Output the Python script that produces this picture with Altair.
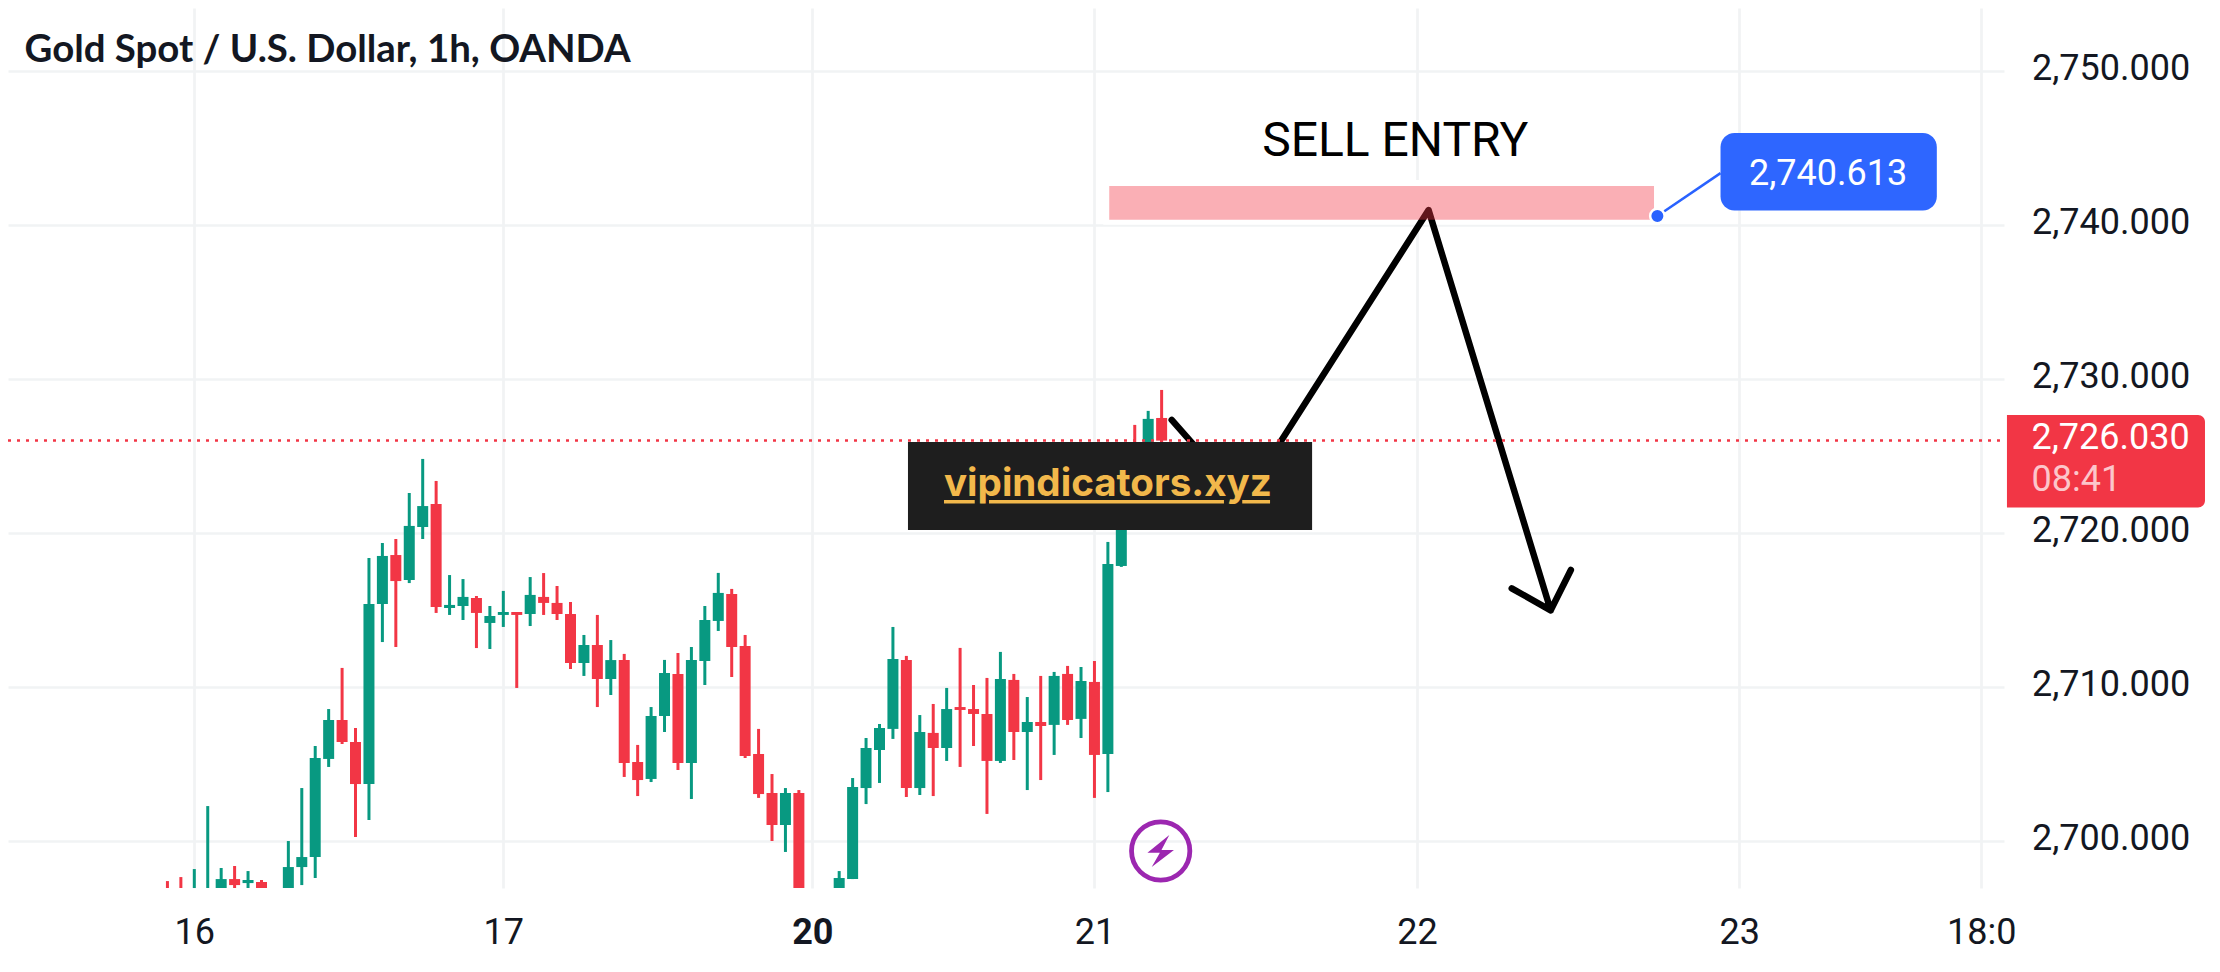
import altair as alt
import pandas as pd

# bar index (0 = the "16" tick), one hourly candle per index
bars = list(range(-2, 73))
highs = [2697.43,2697.69,2698.21,2702.30,2698.28,2698.41,2698.08,2697.50,2696.00,2700.03,2703.47,2706.20,2708.60,2711.27,2707.37,2718.41,2719.38,2719.64,2722.63,2724.84,2723.41,2717.30,2717.04,2715.94,2715.29,2716.27,2714.90,2717.17,2717.43,2716.59,2715.55,2713.41,2714.71,2713.08,
         2712.18,2706.27,2708.73,2711.79,2712.24,2712.63,2715.29,2717.44,2716.40,2713.41,2707.31,2704.38,2703.47,2703.34,2696.00,2696.00,2698.08,2704.12,2706.72,2707.63,2713.93,2712.05,2708.21,2708.93,2709.97,2712.57,2710.16,2710.62,2712.31,2710.88,2709.38,2710.75,2711.01,2711.40,2711.33,2711.72,2719.45,2722.50,2727.05,2727.96,2729.32]
tops = [2696.50,2696.50,2696.50,2696.50,2697.56,2697.56,2697.50,2697.37,2696.00,2698.34,2698.99,2705.42,2707.89,2707.89,2706.46,2715.42,2718.54,2718.60,2720.49,2721.78,2721.91,2715.36,2715.88,2715.81,2714.64,2714.90,2714.90,2716.01,2715.88,2715.49,2714.77,2712.76,2712.76,2711.78,
        2711.79,2705.16,2708.15,2710.94,2710.88,2711.79,2714.38,2716.14,2716.07,2712.70,2705.68,2703.15,2703.15,2703.15,2696.00,2696.00,2697.63,2703.54,2706.07,2707.37,2711.85,2711.79,2707.11,2707.05,2708.60,2708.73,2708.60,2708.28,2710.55,2710.49,2707.76,2707.76,2710.75,2710.88,2710.42,2710.36,2718.02,2722.00,2725.60,2727.44,2727.50]
bottoms = [2696.00,2696.00,2696.00,2696.00,2696.70,2697.17,2697.30,2696.50,2696.00,2696.50,2698.34,2698.99,2705.36,2706.46,2703.73,2703.73,2715.42,2716.91,2716.98,2720.42,2715.23,2715.16,2715.29,2714.84,2714.19,2714.71,2714.71,2714.77,2715.49,2714.77,2711.59,2711.59,2710.55,2710.55,
           2705.10,2703.99,2704.06,2708.15,2705.10,2705.10,2711.72,2714.32,2712.63,2705.55,2703.08,2701.07,2701.07,2696.00,2696.00,2696.00,2696.50,2697.56,2703.47,2705.94,2707.31,2703.47,2703.47,2706.07,2706.07,2708.54,2708.28,2705.23,2705.23,2707.11,2707.11,2707.50,2707.57,2707.89,2707.96,2705.62,2705.68,2717.89,2722.00,2725.60,2726.03]
lows = [2695.50,2695.50,2695.50,2695.50,2696.00,2696.50,2696.50,2696.00,2696.00,2696.00,2697.17,2697.63,2704.84,2706.33,2700.29,2701.40,2712.95,2712.63,2716.78,2719.64,2714.84,2714.71,2714.38,2712.56,2712.50,2713.93,2709.97,2713.99,2714.71,2714.38,2711.20,2710.75,2708.73,2709.51,
        2704.19,2702.95,2703.86,2707.11,2704.64,2702.76,2710.16,2713.67,2710.68,2705.42,2702.83,2700.03,2699.32,2695.00,2696.00,2696.00,2696.00,2697.56,2702.43,2703.80,2706.66,2702.89,2703.02,2702.95,2705.23,2704.84,2706.20,2701.79,2705.10,2705.29,2703.34,2703.99,2705.62,2707.57,2706.72,2702.83,2703.21,2717.83,2721.60,2725.20,2725.70]
falling = {-2,-1,3,5,11,12,15,18,21,24,26,27,28,30,32,33,36,40,41,42,43,45,53,55,57,58,59,61,63,65,67,70,72}

price_ticks = [2700, 2710, 2720, 2730, 2740, 2750]
time_ticks = [0, 23, 46, 67, 91, 115, 133]
time_labels = ["16", "17", "20", "21", "22", "23", "18:0"]

last_price = 2726.03
target_price = 2740.613

arrow_x = [72.75, 78.05, 91.87, 100.96, 98.06, 100.96, 102.46]
arrow_y = [2727.37, 2722.13, 2741.0, 2715.01, 2716.44, 2715.01, 2717.63]

GREEN, RED, BLUE, INK = "#089981", "#f23645", "#2962ff", "#131722"

df = pd.DataFrame({"i": bars, "h": highs, "t": tops, "b": bottoms, "l": lows})
df["dir"] = ["down" if i in falling else "up" for i in bars]

xs = alt.Scale(domain=[-13.867, 134.70], nice=False, zero=False)
ys = alt.Scale(domain=[2696.98, 2754.12], nice=False, zero=False)
colr = alt.Color("dir:N", scale=alt.Scale(domain=["up", "down"], range=[GREEN, RED]), legend=None)

mapping = "{" + ",".join(f"'{v}':'{t}'" for v, t in zip(time_ticks, time_labels)) + "}"
x_axis = alt.Axis(values=time_ticks, labelExpr=mapping + "[''+datum.value]", title=None, domain=False, ticks=False,
                  gridColor="#f1f3f4", gridWidth=2.7, labelFont="Roboto", labelFontSize=36, labelColor=INK,
                  labelPadding=27, labelOverlap=False, labelFlush=False,
                  labelFontWeight=alt.expr("datum.value == 46 ? 'bold' : 'normal'"))
y_axis = alt.Axis(values=price_ticks, format=",.3f", orient="right", title=None, domain=False, ticks=False,
                  gridColor="#f1f3f4", gridWidth=2.7, labelFont="Roboto", labelFontSize=36, labelColor=INK,
                  labelPadding=27.5, labelOverlap=False, labelFlush=False, labelBaseline="line-bottom", labelOffset=17)

X = lambda f="x:Q": alt.X(f, scale=xs, axis=x_axis, title=None)
Y = lambda f="y:Q": alt.Y(f, scale=ys, axis=y_axis, title=None)


def rect(x, x2, y, y2, color, **kw):
    return alt.Chart(pd.DataFrame({"x": [x], "x2": [x2], "y": [y], "y2": [y2]})).mark_rect(color=color, **kw).encode(
        x=X(), x2="x2:Q", y=Y(), y2="y2:Q")


def seg(x, x2, y, y2, color, width, **kw):
    return alt.Chart(pd.DataFrame({"x": [x], "x2": [x2], "y": [y], "y2": [y2]})).mark_rule(
        color=color, strokeWidth=width, **kw).encode(x=X(), x2="x2:Q", y=Y(), y2="y2:Q")


def label(text, x, y, size, color, font="Roboto", align="left", baseline="alphabetic", **kw):
    return alt.Chart(pd.DataFrame({"x": [x], "y": [y], "s": [text]})).mark_text(
        font=font, fontSize=size, color=color, align=align, baseline=baseline, **kw).encode(
        x=X(), y=Y(), text="s:N")


wicks = alt.Chart(df).mark_rule(strokeWidth=3, clip=True).encode(x=X("i:Q"), y=Y("h:Q"), y2="l:Q", color=colr)
bodies = alt.Chart(df).mark_rule(strokeWidth=11, clip=True).encode(x=X("i:Q"), y=Y("t:Q"), y2="b:Q", color=colr)

price_line = seg(-13.867, 134.4, last_price, last_price, RED, 2.5, strokeDash=[3, 6])

halo = rect(67.66, 109.1, 2742.95, 2740.05, "#ffffff")
arrow = alt.Chart(pd.DataFrame({"x": arrow_x, "y": arrow_y, "o": list(range(len(arrow_x)))})).mark_line(
    color="#000000", strokeWidth=6.5, strokeCap="round", strokeJoin="round").encode(
    x=X(), y=Y(), order="o:Q")
zone = rect(68.1, 108.65, 2742.56, 2740.37, RED, opacity=0.4)
sell = label("SELL ENTRY", 89.39, 2744.51, 48, "#000000", align="center")

leader = seg(108.9, 113.6, target_price, 2743.4, BLUE, 2.5)
dot = alt.Chart(pd.DataFrame({"x": [108.9], "y": [target_price]})).mark_point(
    filled=True, size=210, color=BLUE, stroke="#ffffff", strokeWidth=2.5, opacity=1).encode(x=X(), y=Y())
tag = rect(113.6, 129.7, 2746.0, 2740.97, "#2e66ff", cornerRadius=14)
tag_text = label("2,740.613", 121.6, 2743.34, 36, "#ffffff", align="center", baseline="middle")

box = rect(53.12, 83.2, 2725.94, 2720.23, "#1e1e1e")
box_text = label("vipindicators.xyz", 55.8, 2722.44, 38.6, "#f2b84b", font="Inter", fontWeight=700)
under1 = seg(55.8, 58.09, 2722.06, 2722.06, "#f2b84b", 3.5)
under2 = seg(59.15, 76.64, 2722.06, 2722.06, "#f2b84b", 3.5)
under3 = seg(78.0, 80.07, 2722.06, 2722.06, "#f2b84b", 3.5)

ring = alt.Chart(pd.DataFrame({"x": [71.93], "y": [2699.38]})).mark_point(
    filled=False, size=3400, color="#9c27b0", strokeWidth=4.8, opacity=1).encode(x=X(), y=Y())
bolt = alt.Chart(pd.DataFrame({"x": [71.93], "y": [2699.38]})).mark_point(
    filled=True, size=1024, color="#9c27b0", strokeWidth=0, opacity=1,
    shape="M0.54,-1 L-0.83,0.1 L-0.05,0.1 L-0.56,1 L0.83,-0.06 L0.05,-0.06 Z").encode(x=X(), y=Y())

red_tag = rect(134.92, 149.66, 2727.69, 2721.68, RED, cornerRadiusTopRight=7, cornerRadiusBottomRight=7)
red_price = label("2,726.030", 136.75, 2726.18, 36, "#ffffff", baseline="middle")
red_timer = label("08:41", 136.75, 2723.48, 36, "#fcc6cb", baseline="middle")

title = label("Gold Spot / U.S. Dollar, 1h, OANDA", -12.64, 2750.6, 38.4, INK, font="Lato", fontWeight="bold")

chart = alt.layer(
    wicks, bodies, halo, arrow, zone, price_line, box, box_text, under1, under2, under3,
    sell, leader, dot, tag, tag_text, ring, bolt, red_tag, red_price, red_timer, title,
).properties(
    width=1996, height=880, background="#ffffff",
    autosize=alt.AutoSizeParams(type="none"),
    padding={"left": 0, "top": 0, "right": 205, "bottom": 80},
).configure_view(stroke=None)

chart.save("out.html", embed_options={"renderer": "svg", "actions": False})
